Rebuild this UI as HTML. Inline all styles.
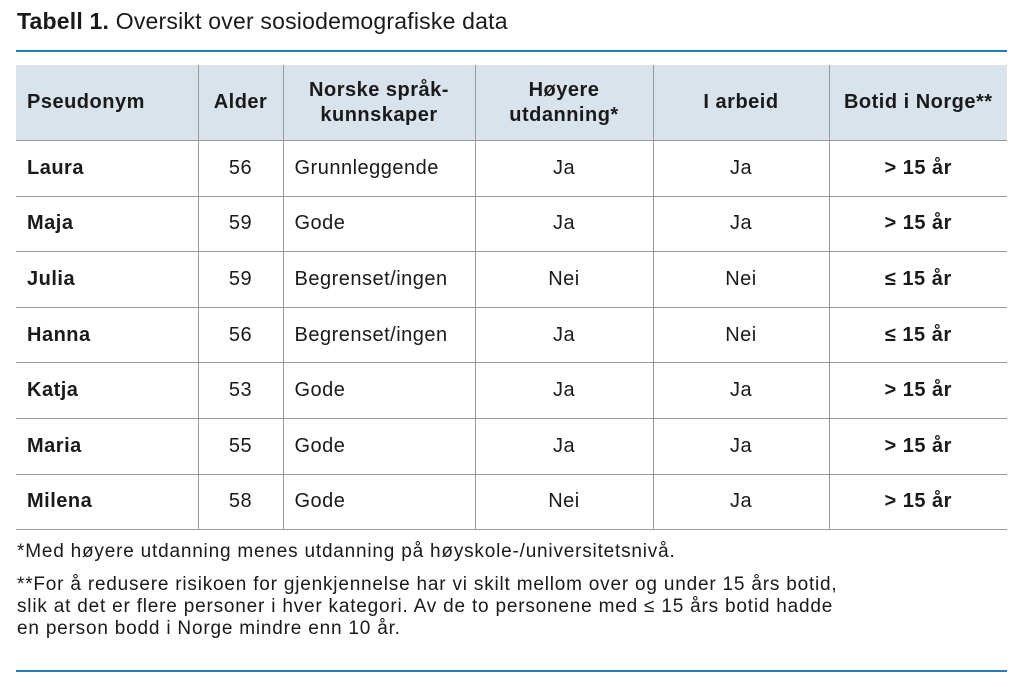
<!DOCTYPE html>
<html><head><meta charset="utf-8"><style>
body{margin:0;width:1024px;height:687px;background:#fff;font-family:"Liberation Sans",sans-serif;color:#1a1a1a;position:relative;overflow:hidden}
.t{position:absolute;left:17px;top:8px;font-size:23px;letter-spacing:0.2px;white-space:nowrap}
.hr{position:absolute;left:16px;width:991px;height:2px;background:#1f7fbf}
table{position:absolute;left:16px;top:65px;border-collapse:collapse;width:991px;font-size:20px;letter-spacing:0.5px}
td,th{border:1px solid #9a9a9a;padding:0 11px;height:54.6px;white-space:nowrap}
tr td:first-child,tr th:first-child{border-left:none}
tr td:last-child,tr th:last-child{border-right:none}
thead th{background:#d9e3ec;height:75px;border-top:none;font-weight:bold;line-height:25px}
th.l,td.l{text-align:left}
.c{text-align:center}
tbody td:first-child{font-weight:bold}
td.b{font-weight:bold;text-align:center}
.f{position:absolute;left:17px;font-size:19px;line-height:22px;letter-spacing:0.8px;white-space:nowrap}
</style></head><body>
<div class="t"><b>Tabell 1.</b> Oversikt over sosiodemografiske data</div>
<div class="hr" style="top:50px"></div>
<table>
<colgroup><col style="width:182px"><col style="width:85px"><col style="width:192px"><col style="width:178px"><col style="width:176px"><col></colgroup>
<thead><tr><th class="l">Pseudonym</th><th class="c">Alder</th><th class="c">Norske språk-<br>kunnskaper</th><th class="c">Høyere<br>utdanning*</th><th class="c">I arbeid</th><th class="c">Botid i Norge**</th></tr></thead>
<tbody>
<tr><td>Laura</td><td class="c">56</td><td>Grunnleggende</td><td class="c">Ja</td><td class="c">Ja</td><td class="b">&gt; 15 år</td></tr>
<tr><td>Maja</td><td class="c">59</td><td>Gode</td><td class="c">Ja</td><td class="c">Ja</td><td class="b">&gt; 15 år</td></tr>
<tr><td>Julia</td><td class="c">59</td><td>Begrenset/ingen</td><td class="c">Nei</td><td class="c">Nei</td><td class="b">≤ 15 år</td></tr>
<tr><td>Hanna</td><td class="c">56</td><td>Begrenset/ingen</td><td class="c">Ja</td><td class="c">Nei</td><td class="b">≤ 15 år</td></tr>
<tr><td>Katja</td><td class="c">53</td><td>Gode</td><td class="c">Ja</td><td class="c">Ja</td><td class="b">&gt; 15 år</td></tr>
<tr><td>Maria</td><td class="c">55</td><td>Gode</td><td class="c">Ja</td><td class="c">Ja</td><td class="b">&gt; 15 år</td></tr>
<tr><td>Milena</td><td class="c">58</td><td>Gode</td><td class="c">Nei</td><td class="c">Ja</td><td class="b">&gt; 15 år</td></tr>
</tbody></table>
<div class="f" style="top:541px">*Med høyere utdanning menes utdanning på høyskole-/universitetsnivå.</div>
<div class="f" style="top:574px">**For å redusere risikoen for gjenkjennelse har vi skilt mellom over og under 15 års botid,<br>slik at det er flere personer i hver kategori. Av de to personene med ≤ 15 års botid hadde<br>en person bodd i Norge mindre enn 10 år.</div>
<div class="hr" style="top:670px"></div>
</body></html>
